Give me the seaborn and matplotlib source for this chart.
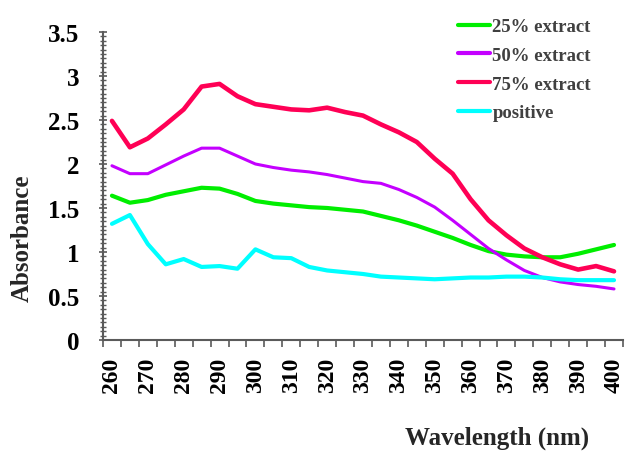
import numpy as np
import pandas as pd
import matplotlib
matplotlib.use("Agg")
import matplotlib.pyplot as plt
from matplotlib.ticker import MultipleLocator
import seaborn as sns

# wavelength (nm), one reading every 5 nm
wavelength = list(range(260, 405, 5))

extract_25 = [1.64, 1.56, 1.59, 1.65, 1.69, 1.73, 1.72, 1.66, 1.58, 1.55,
              1.53, 1.51, 1.50, 1.48, 1.46, 1.41, 1.36, 1.30, 1.23, 1.16,
              1.08, 1.01, 0.97, 0.95, 0.94, 0.94, 0.98, 1.03, 1.08]
extract_50 = [1.98, 1.89, 1.89, 1.99, 2.09, 2.18, 2.18, 2.09, 2.00, 1.96,
              1.93, 1.91, 1.88, 1.84, 1.80, 1.78, 1.71, 1.62, 1.51, 1.36,
              1.20, 1.04, 0.91, 0.79, 0.71, 0.66, 0.63, 0.61, 0.58]
extract_75 = [2.49, 2.19, 2.29, 2.45, 2.62, 2.88, 2.91, 2.77, 2.68, 2.65,
              2.62, 2.61, 2.64, 2.59, 2.55, 2.45, 2.36, 2.25, 2.06, 1.89,
              1.60, 1.36, 1.19, 1.04, 0.94, 0.86, 0.80, 0.84, 0.78]
positive = [1.32, 1.42, 1.09, 0.86, 0.92, 0.83, 0.84, 0.81, 1.03, 0.94,
            0.93, 0.83, 0.79, 0.77, 0.75, 0.72, 0.71, 0.70, 0.69, 0.70,
            0.71, 0.71, 0.72, 0.72, 0.71, 0.69, 0.68, 0.68, 0.68]

series_names = ["25% extract", "50% extract", "75% extract", "positive"]
series_colors = ["#00ee00", "#c400ff", "#ff0055", "#00ffff"]
series_widths = [3.0, 2.2, 3.3, 3.0]

df = pd.DataFrame({
    "wavelength": wavelength * 4,
    "absorbance": extract_25 + extract_50 + extract_75 + positive,
    "series": np.repeat(series_names, len(wavelength)),
})

sns.set_style("ticks")
plt.rcParams["font.family"] = ["Liberation Serif", "DejaVu Serif"]
plt.rcParams["font.weight"] = "bold"

fig = plt.figure(figsize=(6.28, 4.52), dpi=100)
ax = fig.add_axes([0.164, 0.2456, 0.828, 0.6814])

sns.lineplot(data=df, x="wavelength", y="absorbance", hue="series",
             palette=dict(zip(series_names, series_colors)), ax=ax,
             legend=False)
for line, lw in zip(ax.get_lines(), series_widths):
    line.set_linewidth(lw)
    line.set_solid_joinstyle("round")

ax.set_xlim(257.5, 402.5)
ax.set_ylim(0, 3.5)
ax.xaxis.set_major_locator(MultipleLocator(10))
ax.xaxis.set_minor_locator(matplotlib.ticker.FixedLocator(np.arange(257.5, 403, 5)))
ax.yaxis.set_major_locator(MultipleLocator(0.5))
ax.yaxis.set_minor_locator(MultipleLocator(0.05))
ax.yaxis.set_major_formatter(matplotlib.ticker.FuncFormatter(lambda v, p: f"{v:g}"))

axis_col = "#5a5a5a"
ax.tick_params(axis="x", which="major", length=0, pad=12, labelsize=17,
               labelrotation=90, labelcolor="black")
ax.tick_params(axis="x", which="minor", length=5, width=1.2, color=axis_col,
               direction="out")
ax.tick_params(axis="y", which="major", length=6, width=1.2, color=axis_col,
               direction="inout", pad=14, labelsize=18, labelcolor="black")
ax.tick_params(axis="y", which="minor", length=4, width=1.0, color=axis_col,
               direction="inout")
for lab in ax.get_xticklabels() + ax.get_yticklabels():
    lab.set_fontweight("bold")

sns.despine(ax=ax)
for side in ["left", "bottom"]:
    ax.spines[side].set_color(axis_col)
    ax.spines[side].set_linewidth(1.5)

ax.set_xlabel("")
ax.set_ylabel("")
fig.text(0.036, 0.473, "Absorbance", rotation=90, ha="center", va="center",
         fontsize=18, fontweight="bold")
fig.text(0.792, 0.031, "Wavelength (nm)", ha="center", va="center",
         fontsize=18, fontweight="bold")

handles = [matplotlib.lines.Line2D([], [], color=c, lw=3) for c in series_colors]
leg = fig.legend(handles, series_names, loc="upper left",
                 bbox_to_anchor=(0.729, 0.958), frameon=False,
                 fontsize=13.5, handlelength=1.7, handletextpad=0.15,
                 labelspacing=0.62, borderpad=0, borderaxespad=0)
for t in leg.get_texts():
    t.set_color("#404040")
    t.set_fontweight("bold")

fig.savefig("out.png", dpi=100)
